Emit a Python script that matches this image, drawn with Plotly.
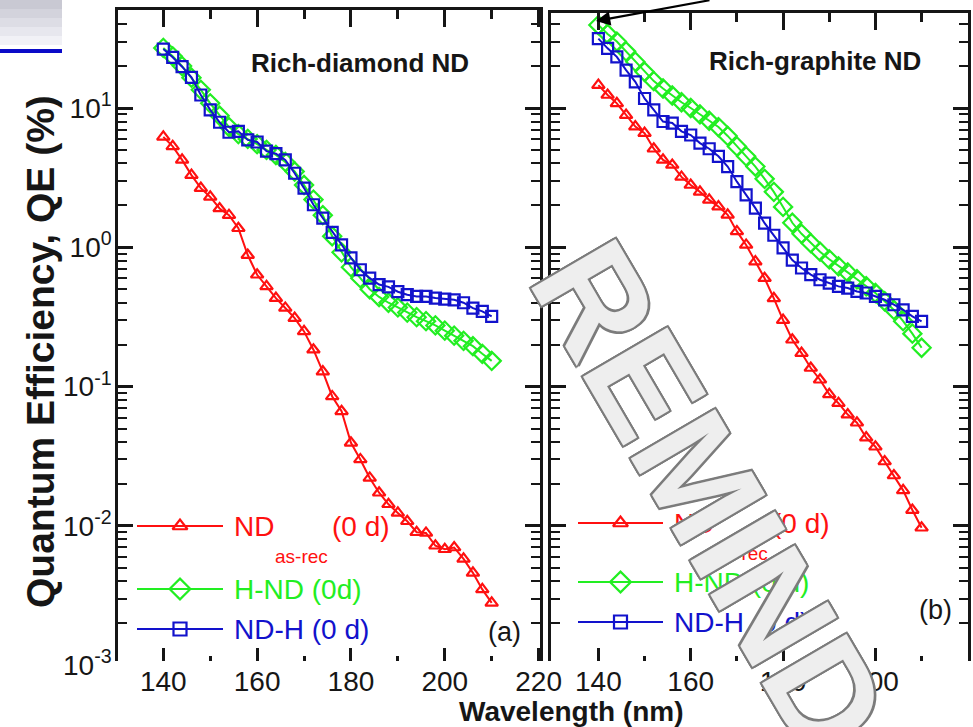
import plotly.graph_objects as go

W, H = 973, 727

# ---------------- data ----------------
wavelength = [140, 142, 144, 146, 148, 150, 152, 154, 156, 158, 160, 162,
              164, 166, 168, 170, 172, 174, 176, 178, 180, 182, 184, 186,
              188, 190, 192, 194, 196, 198, 200, 202, 204, 206, 208, 210]

# (a) Rich-diamond ND
qe_a_nd = [6.2, 5.3, 4.24, 3.3, 2.66, 2.3, 1.9, 1.7, 1.37, 0.88, 0.635, 0.524,
           0.432, 0.367, 0.31, 0.249, 0.184, 0.128, 0.085, 0.0665, 0.0395, 0.030,
           0.0221, 0.0173, 0.0143, 0.0124, 0.0108, 0.0090, 0.0089, 0.0072, 0.0068, 0.0070,
           0.0058, 0.0046, 0.0035, 0.0028]
qe_a_hnd = [27.0, 23.5, 20.0, 16.5, 13.5, 10.8, 8.8, 7.3, 6.5, 6.0, 5.5, 5.0,
            4.6, 4.1, 3.5, 2.8, 2.2, 1.7, 1.2, 0.92, 0.72, 0.60,
            0.50, 0.44, 0.40, 0.37, 0.34, 0.315, 0.295, 0.275, 0.252, 0.232,
            0.213, 0.195, 0.172, 0.153]
qe_a_ndh = [26.5, 23.1, 19.8, 16.6, 12.4, 9.7, 7.9, 6.7, 6.8, 5.9, 5.7, 4.9,
            4.7, 4.24, 3.4, 2.66, 2.02, 1.62, 1.28, 1.04, 0.84, 0.69,
            0.60, 0.54, 0.52, 0.48, 0.457, 0.444, 0.444, 0.432, 0.425, 0.42,
            0.40, 0.366, 0.347, 0.319]

# (b) Rich-graphite ND
qe_b_nd = [14.6, 12.4, 10.8, 8.9, 7.35, 6.6, 5.1, 4.24, 3.9, 3.2, 2.8, 2.5,
           2.19, 1.96, 1.71, 1.30, 1.04, 0.79, 0.60, 0.43, 0.30, 0.217,
           0.174, 0.136, 0.112, 0.088, 0.076, 0.063, 0.055, 0.043, 0.037, 0.029,
           0.023, 0.018, 0.013, 0.0097]
qe_b_hnd = [39.4, 34.0, 30.0, 25.5, 21.5, 18.2, 15.6, 13.8, 12.3, 11.0, 10.0, 9.0,
            8.1, 7.3, 6.3, 5.3, 4.5, 3.8, 3.1, 2.5, 1.95, 1.5,
            1.25, 1.07, 0.93, 0.82, 0.73, 0.66, 0.59, 0.525, 0.47, 0.41,
            0.355, 0.295, 0.24, 0.19]
qe_b_ndh = [31.5, 26.8, 23.3, 18.7, 15.4, 11.7, 9.7, 8.0, 7.8, 6.8, 6.4, 5.6,
            5.1, 4.5, 3.8, 2.96, 2.38, 1.91, 1.49, 1.22, 0.99, 0.81,
            0.71, 0.636, 0.585, 0.553, 0.524, 0.51, 0.482, 0.47, 0.444, 0.42,
            0.387, 0.356, 0.319, 0.294]

xtick_vals = [140, 160, 180, 200, 220]
xtick_text = ["140", "160", "180", "200", "220"]
xminor_vals = [150, 170, 190, 210]
ytick_vals = [1e-3, 1e-2, 1e-1, 1, 10]
ytick_text = ["10<sup>-3</sup>", "10<sup>-2</sup>", "10<sup>-1</sup>", "10<sup>0</sup>", "10<sup>1</sup>"]

series_names = ["ND as-rec (0 d)", "H-ND (0d)", "ND-H (0 d)"]

# ---------------- styles ----------------
RED, GREEN, BLUE = "#ff1010", "#22ee22", "#1212cc"
INK = "#161616"
FONT = "Liberation Sans"
styles = [
    dict(color=RED, symbol="triangle-up-open", size=11),
    dict(color=GREEN, symbol="diamond-open", size=14),
    dict(color=BLUE, symbol="square-open", size=11),
]

def px(x):
    return x / W

def py(y):
    return 1 - y / H

yminor_vals = [k * 10.0 ** e for e in range(-3, 2) for k in range(2, 10)]

fig = go.Figure()

panels = [
    ("x", "y", [qe_a_nd, qe_a_hnd, qe_a_ndh]),
    ("x2", "y2", [qe_b_nd, qe_b_hnd, qe_b_ndh]),
]
for xa, ya, series in panels:
    for vals, st, name in zip(series, styles, series_names):
        fig.add_trace(go.Scatter(
            x=wavelength, y=vals, xaxis=xa, yaxis=ya, mode="lines+markers",
            name=name, showlegend=False,
            line=dict(color=st["color"], width=2),
            marker=dict(symbol=st["symbol"], size=st["size"], color=st["color"],
                        line=dict(color=st["color"], width=2.2)),
        ))

# legend samples on a pixel overlay axis
legend_rows = [
    [(137, 223, 526), (137, 223, 589), (137, 223, 629)],
    [(578, 663, 523), (578, 663, 582), (578, 663, 622)],
]
for rows in legend_rows:
    for (x0, x1, yy), st in zip(rows, styles):
        fig.add_trace(go.Scatter(x=[x0, x1], y=[yy, yy], xaxis="x3", yaxis="y3",
                                 mode="lines", showlegend=False, hoverinfo="skip",
                                 line=dict(color=st["color"], width=2)))
        fig.add_trace(go.Scatter(x=[(x0 + x1) / 2], y=[yy], xaxis="x3", yaxis="y3",
                                 mode="markers", showlegend=False, hoverinfo="skip",
                                 marker=dict(symbol=st["symbol"], size=st["size"] + 2,
                                             color=st["color"],
                                             line=dict(color=st["color"], width=2.2))))

tickfont = dict(family=FONT, size=28, color=INK)

def xaxis_style(domain, rng, anchor):
    return dict(domain=domain, range=rng, anchor=anchor, showline=True,
                linewidth=2.5, linecolor=INK,
                ticks="inside", ticklen=17, tickwidth=2.5, tickcolor=INK,
                tickvals=xtick_vals, ticktext=xtick_text, mirror="ticks",
                showgrid=False, zeroline=False, tickfont=tickfont,
                ticklabelstandoff=-11,
                minor=dict(ticks="inside", ticklen=9, tickwidth=2.5, tickcolor=INK,
                           tickvals=xminor_vals, showgrid=False),
                automargin=False)

def yaxis_style(domain, rng, anchor, labels):
    return dict(domain=domain, range=rng, anchor=anchor, type="log",
                showline=True, linewidth=2.5, linecolor=INK, mirror="ticks",
                ticks="inside", ticklen=15, tickwidth=2.5, tickcolor=INK,
                tickvals=ytick_vals, ticktext=ytick_text, showticklabels=labels,
                showgrid=False, zeroline=False, tickfont=tickfont,
                ticklabelstandoff=-2,
                minor=dict(ticks="inside", ticklen=9, tickwidth=2.2, tickcolor=INK,
                           tickvals=yminor_vals, showgrid=False),
                automargin=False)

ybot = py(665.2)
fig.update_layout(
    width=W, height=H,
    margin=dict(l=0, r=0, t=0, b=0),
    paper_bgcolor="white", plot_bgcolor="rgba(0,0,0,0)",
    showlegend=False,
    xaxis=xaxis_style([px(118), px(540)], [130.34, 220.3], "y"),
    yaxis=yaxis_style([ybot, py(10)], [-3, 1.7035], "x", True),
    xaxis2=xaxis_style([px(551), px(968)], [129.74, 220.05], "y2"),
    yaxis2=yaxis_style([ybot, py(13)], [-3, 1.682], "x2", False),
    xaxis3=dict(domain=[0, 1], range=[0, W], visible=False, anchor="y3", fixedrange=True),
    yaxis3=dict(domain=[0, 1], range=[H, 0], visible=False, anchor="x3", fixedrange=True),
)

shapes = []
# white band cutting the bottom of the frames
shapes.append(dict(type="rect", xref="paper", yref="paper", x0=px(112), x1=1,
                   y0=py(668), y1=py(661), fillcolor="white", line=dict(width=0),
                   layer="above"))
# slide header box (top left), light gradient in stripes
stripe_cols = ["#c9c9d3", "#d3d3dc", "#dddde5", "#e7e7ee", "#f1f1f6"]
for i, c in enumerate(stripe_cols):
    shapes.append(dict(type="rect", xref="paper", yref="paper", x0=0, x1=px(62),
                       y0=py(9 * (i + 1)), y1=py(9 * i), fillcolor=c, line=dict(width=0)))
shapes.append(dict(type="rect", xref="paper", yref="paper", x0=0, x1=px(62),
                   y0=py(53), y1=py(49), fillcolor="#0a0ac8", line=dict(width=0)))
fig.update_layout(shapes=shapes)

anns = []

def ann(text, x, y, size, color=INK, xanchor="center", angle=0, bold=False):
    anns.append(dict(text=f"<b>{text}</b>" if bold else text, x=px(x), y=py(y),
                     xref="paper", yref="paper", showarrow=False, xanchor=xanchor,
                     yanchor="middle", textangle=angle,
                     font=dict(family=FONT, size=size, color=color)))

ann("Rich-diamond ND", 360, 63, 26, bold=True)
ann("Rich-graphite ND", 815, 61, 26, bold=True)
ann("(a)", 505, 632, 27)
ann("(b)", 935, 610, 27)
ann("Wavelength (nm)", 571, 711, 28, bold=True)
ann("Quantum Efficiency, QE (%)", 40, 352, 39, angle=-90, bold=True)

# legend labels
for dx, y_rows in ((0, (526, 589, 629)), (440, (523, 582, 622))):
    ann("ND", 232 + dx, y_rows[0], 28, color=RED, xanchor="left")
    ann("as-rec", 273 + dx, y_rows[0] + 30, 19, color=RED, xanchor="left")
    ann("(0 d)", 330 + dx, y_rows[0], 28, color=RED, xanchor="left")
ann("H-ND (0d)", 232, 589, 28, color=GREEN, xanchor="left")
ann("ND-H (0 d)", 232, 629, 28, color=BLUE, xanchor="left")
ann("H-ND (0 d)", 672, 582, 28, color=GREEN, xanchor="left")
ann("ND-H (0 d)", 672, 622, 28, color=BLUE, xanchor="left")

# arrow pointing to the first point of panel (b)
anns.append(dict(text="", x=px(596), y=py(21), xref="paper", yref="paper",
                 showarrow=True, ax=115, ay=-40, arrowhead=2, arrowsize=1.3,
                 arrowwidth=2.2, arrowcolor="black"))

# watermark
outline = ", ".join(f"{a}px {b}px 0 #7c7c7c" for a, b in
                    [(2, 0), (-2, 0), (0, 2), (0, -2), (2, 2), (-2, -2), (2, -2), (-2, 2)])
anns.append(dict(text="<b>REMIND</b>", x=px(710), y=py(497), xref="paper", yref="paper",
                 showarrow=False, textangle=59.7, xanchor="center", yanchor="middle",
                 font=dict(family=FONT, size=142, color="#eeeeee", shadow=outline)))

fig.update_layout(annotations=anns)

fig.write_html("out.html", config={"displayModeBar": False},
               post_script="document.body.style.margin='0px';")
